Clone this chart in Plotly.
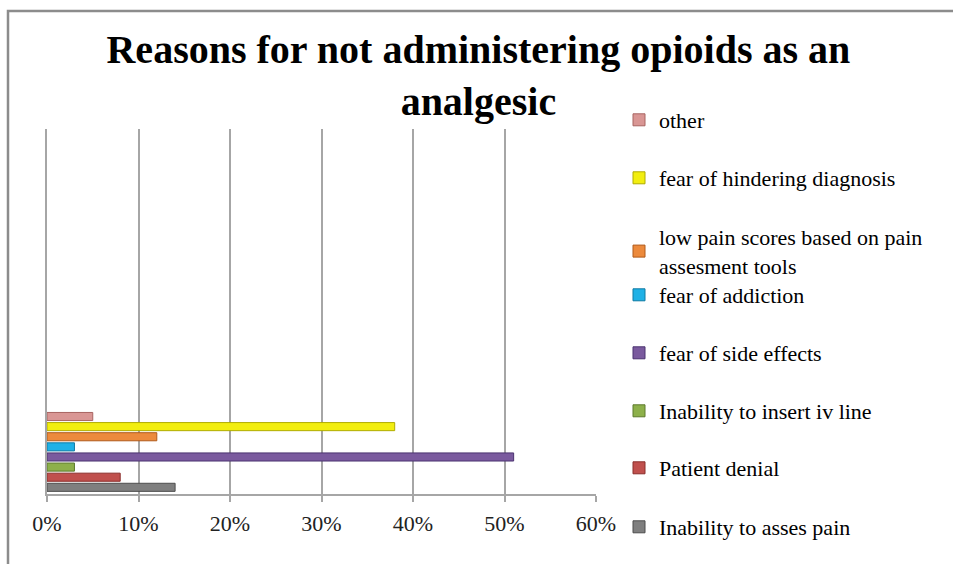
import plotly.graph_objects as go

categories = ["Inability to asses pain", "Patient denial", "Inability to insert iv line",
              "fear of side effects", "fear of addiction",
              "low pain scores based on pain<br>assesment tools",
              "fear of hindering diagnosis", "other"]
values = [0.14, 0.08, 0.03, 0.51, 0.03, 0.12, 0.38, 0.05]
colors = ["#7f7f7f", "#c0504d", "#8db04a", "#7a5a9e", "#1fb1e6", "#ec8a3c", "#f2ee10", "#d99694"]
outlines = ["#4d4d4d", "#8a2e2b", "#5d7a2c", "#4b3370", "#0f7aa3", "#b05a1a", "#b0ac00", "#a86461"]
tick_vals = [0, 0.1, 0.2, 0.3, 0.4, 0.5, 0.6]
tick_text = ["0%", "10%", "20%", "30%", "40%", "50%", "60%"]

W, H = 953, 564
L, R, T, B = 47, 357, 129, 70
plot_h = H - T - B
plot_w = W - L - R

def px_to_py(py):
    return (H - B - py) / plot_h

def px_to_px(px):
    return (px - L) / plot_w

serif = "Liberation Serif, Times New Roman, serif"

fig = go.Figure()
legend_centers = [527, 468, 411, 353, 295, 237, 178, 120]
for i, (name, v, c, oc) in enumerate(zip(categories, values, colors, outlines)):
    lg = "legend" if i == 0 else f"legend{i+1}"
    fig.add_trace(go.Bar(
        y=[0], x=[v], name=name, orientation="h",
        marker=dict(color=c, line=dict(color=oc, width=1)),
        legend=lg, hoverinfo="x+name"))

fig.update_layout(
    width=W, height=H,
    margin=dict(l=L, r=R, t=T, b=B),
    paper_bgcolor="white", plot_bgcolor="white",
    barmode="group", bargap=0.0, bargroupgap=0.2,
    title=dict(text="<b>Reasons for not administering opioids as an<br>analgesic</b>",
               x=0.502, xanchor="center", y=1 - 63 / H, yanchor="middle",
               font=dict(family=serif, size=40, color="black")),
    xaxis=dict(range=[0, 0.6], tickvals=tick_vals, ticktext=tick_text,
               showgrid=True, gridcolor="#a6a6a6", gridwidth=1.6,
               showline=True, linecolor="#a6a6a6", linewidth=1.6,
               ticks="outside", ticklen=6, tickcolor="#a6a6a6", tickwidth=1.6,
               ticklabelstandoff=3,
               tickfont=dict(family=serif, size=22, color="#222"), zeroline=False),
    yaxis=dict(range=[-0.52, 3.99], showticklabels=False, showgrid=False,
               zeroline=False, showline=True, linecolor="#a6a6a6", linewidth=1.6),
    showlegend=True,
)

for i, cy in enumerate(legend_centers):
    key = "legend" if i == 0 else f"legend{i+1}"
    fig.update_layout({key: dict(
        x=px_to_px(619), xanchor="left",
        y=px_to_py(cy - 21), yanchor="top",
        bgcolor="rgba(0,0,0,0)",
        font=dict(family=serif, size=22, color="black"),
        itemclick=False, itemdoubleclick=False)})

# outer frame (top and left edges visible)
fig.add_shape(type="rect", xref="paper", yref="paper",
              x0=px_to_px(8), x1=px_to_px(W + 20),
              y0=px_to_py(H + 20), y1=px_to_py(11),
              line=dict(color="#8c8c8c", width=2.5), layer="below")

fig.write_html("out.html")
